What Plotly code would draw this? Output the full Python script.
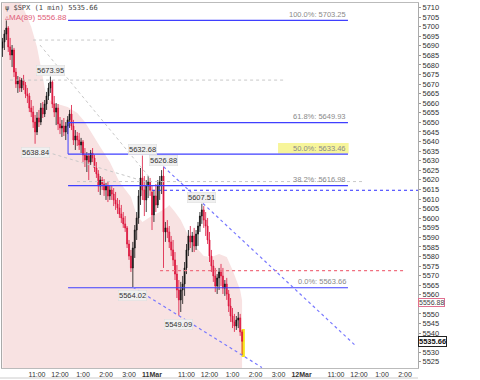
import plotly.graph_objects as go

# ---------------- data ----------------
DAY_INDEX = {"10": 0, "11": 1, "12": 2}

bars_day10 = 78   # 5-min bars 09:30 .. 15:55 on 10 Mar
bars_day11 = 48   # 5-min bars 09:30 .. 13:25 on 11 Mar

opens = [5688.9, 5692.0, 5696.2, 5699.3, 5689.4, 5685.2, 5687.8, 5676.3, 5670.1, 5672.1,
         5668.0, 5672.1, 5669.5, 5664.8, 5663.8, 5657.5, 5655.4, 5650.2, 5645.0, 5652.3,
         5650.2, 5657.5, 5654.4, 5659.6, 5663.8, 5668.0, 5671.1, 5659.6, 5655.4, 5657.5,
         5649.2, 5647.1, 5648.1, 5645.0, 5648.1, 5651.3, 5654.4, 5648.1, 5640.8, 5642.9,
         5640.8, 5638.2, 5639.8, 5633.0, 5630.4, 5632.5, 5629.3, 5634.0, 5631.4, 5626.2,
         5623.1, 5616.8, 5619.9, 5617.8, 5614.7, 5616.8, 5611.6, 5614.7, 5612.6, 5609.5,
         5607.4, 5605.3, 5602.2, 5600.1, 5597.0, 5594.9, 5586.5, 5580.2, 5574.0, 5584.4,
         5593.8, 5600.1, 5611.6, 5621.0, 5614.7, 5609.5, 5616.8, 5618.9,
         5613.7, 5601.7, 5611.6, 5606.9, 5616.8, 5618.9, 5622.0, 5592.8, 5594.9, 5592.8,
         5587.6, 5583.4, 5578.2, 5570.8, 5562.5, 5557.3, 5562.5, 5565.6, 5574.0, 5583.4,
         5590.7, 5587.6, 5590.7, 5585.5, 5591.7, 5595.9, 5601.1, 5604.3, 5599.0, 5595.9,
         5588.6, 5580.2, 5575.0, 5569.8, 5564.6, 5568.8, 5571.9, 5569.8, 5563.5, 5565.6,
         5560.4, 5554.1, 5548.9, 5545.8, 5543.7, 5546.8, 5547.9, 5540.6]

highs = [5694.1, 5698.3, 5703.25, 5700.3, 5694.1, 5690.4, 5688.9, 5678.4, 5674.2, 5673.7,
         5673.2, 5674.8, 5671.1, 5668.0, 5665.4, 5661.7, 5658.6, 5653.9, 5655.4, 5656.5,
         5660.1, 5660.7, 5661.7, 5665.9, 5670.6, 5673.95, 5672.1, 5663.8, 5660.1, 5659.6,
         5652.8, 5651.3, 5652.3, 5650.2, 5653.3, 5656.5, 5659.1, 5651.3, 5646.0, 5645.0,
         5644.5, 5641.9, 5640.8, 5636.6, 5634.5, 5634.0, 5635.6, 5636.6, 5633.0, 5629.3,
         5625.1, 5622.0, 5621.5, 5620.4, 5618.4, 5618.9, 5617.3, 5616.8, 5615.7, 5613.7,
         5610.5, 5609.5, 5606.9, 5603.2, 5601.1, 5595.9, 5588.6, 5583.4, 5587.6, 5596.4,
         5603.2, 5614.7, 5626.2, 5632.68, 5622.0, 5619.9, 5622.0, 5621.0,
         5616.8, 5614.7, 5617.8, 5619.9, 5622.0, 5625.1, 5626.88, 5598.0, 5599.0, 5595.9,
         5590.7, 5588.6, 5582.3, 5575.5, 5567.7, 5566.7, 5569.8, 5577.1, 5586.5, 5593.8,
         5595.9, 5592.8, 5594.9, 5593.8, 5598.0, 5603.2, 5607.51, 5606.3, 5603.2, 5600.1,
         5592.8, 5583.4, 5578.2, 5574.0, 5570.8, 5574.0, 5576.1, 5574.0, 5567.7, 5568.8,
         5562.5, 5558.3, 5553.1, 5550.0, 5548.9, 5551.0, 5550.0, 5541.6]

lows = [5684.2, 5687.8, 5693.0, 5686.8, 5682.6, 5678.9, 5673.7, 5668.0, 5665.4, 5665.9,
        5665.9, 5666.9, 5662.7, 5660.1, 5655.4, 5652.8, 5647.1, 5638.84, 5643.4, 5647.6,
        5648.6, 5652.3, 5652.8, 5656.5, 5661.7, 5665.4, 5657.5, 5652.8, 5648.6, 5646.0,
        5643.9, 5642.4, 5642.9, 5640.8, 5643.9, 5647.1, 5646.0, 5638.2, 5635.6, 5637.7,
        5635.6, 5634.0, 5629.3, 5626.7, 5624.1, 5619.9, 5627.8, 5629.3, 5624.1, 5621.0,
        5613.7, 5612.1, 5614.7, 5611.6, 5609.5, 5608.4, 5609.5, 5609.5, 5606.3, 5604.3,
        5602.2, 5600.1, 5597.5, 5594.9, 5592.8, 5584.4, 5578.2, 5571.9, 5564.02, 5579.2,
        5588.6, 5597.0, 5606.9, 5609.5, 5601.1, 5603.2, 5610.5, 5611.6,
        5593.8, 5598.0, 5603.2, 5605.3, 5609.5, 5612.6, 5574.0, 5587.6, 5589.6, 5584.4,
        5580.2, 5575.0, 5567.7, 5558.3, 5549.09, 5551.0, 5555.2, 5559.4, 5570.8, 5580.2,
        5584.4, 5582.3, 5582.3, 5583.4, 5585.5, 5592.8, 5597.0, 5594.9, 5590.7, 5586.5,
        5577.1, 5571.9, 5566.7, 5561.4, 5560.4, 5562.5, 5564.6, 5560.4, 5559.4, 5557.3,
        5551.0, 5545.8, 5542.6, 5540.6, 5541.6, 5542.6, 5538.5, 5528.5]

closes = [5692.0, 5696.2, 5699.3, 5689.4, 5685.2, 5687.8, 5676.3, 5670.1, 5672.1, 5668.0,
          5672.1, 5669.5, 5664.8, 5663.8, 5657.5, 5655.4, 5650.2, 5645.0, 5652.3, 5650.2,
          5657.5, 5654.4, 5659.6, 5663.8, 5668.0, 5671.1, 5659.6, 5655.4, 5657.5, 5649.2,
          5647.1, 5648.1, 5645.0, 5648.1, 5651.3, 5654.4, 5648.1, 5640.8, 5642.9, 5640.8,
          5638.2, 5639.8, 5633.0, 5630.4, 5632.5, 5629.3, 5634.0, 5631.4, 5626.2, 5623.1,
          5616.8, 5619.9, 5617.8, 5614.7, 5616.8, 5611.6, 5614.7, 5612.6, 5609.5, 5607.4,
          5605.3, 5602.2, 5600.1, 5597.0, 5594.9, 5586.5, 5580.2, 5574.0, 5584.4, 5593.8,
          5600.1, 5611.6, 5621.0, 5614.7, 5609.5, 5616.8, 5618.9, 5614.56,
          5601.7, 5611.6, 5606.9, 5616.8, 5618.9, 5622.0, 5592.8, 5594.9, 5592.8, 5587.6,
          5583.4, 5578.2, 5570.8, 5562.5, 5557.3, 5562.5, 5565.6, 5574.0, 5583.4, 5590.7,
          5587.6, 5590.7, 5585.5, 5591.7, 5595.9, 5601.1, 5604.3, 5599.0, 5595.9, 5588.6,
          5580.2, 5575.0, 5569.8, 5564.6, 5568.8, 5571.9, 5569.8, 5563.5, 5565.6, 5560.4,
          5554.1, 5548.9, 5545.8, 5543.7, 5546.8, 5547.9, 5540.6, 5535.66]

ma_times = ["10 09:30", "10 10:15", "10 10:30", "10 10:45", "10 11:00", "10 11:15",
            "10 11:25", "10 11:45", "10 12:20", "10 12:45", "10 13:05", "10 13:45",
            "10 14:10", "10 14:35", "10 15:05", "10 15:20", "10 15:35", "10 15:55",
            "11 09:50", "11 10:10", "11 10:15", "11 10:30", "11 10:45", "11 11:00",
            "11 11:20", "11 11:45", "11 12:05", "11 12:25", "11 12:45", "11 13:00",
            "11 13:20", "11 13:25"]
ma_values = [5719.1, 5713.9, 5707.1, 5699.8, 5689.4, 5673.7, 5662.7, 5660.1, 5658.0,
             5654.9, 5650.2, 5637.2, 5629.3, 5618.9, 5611.0, 5601.7, 5598.0, 5600.6,
             5603.2, 5605.8, 5606.9, 5603.2, 5599.0, 5592.8, 5586.0, 5580.2, 5579.7,
             5581.3, 5579.7, 5572.9, 5562.5, 5556.88]

fib_names = ["100.0%", "61.8%", "50.0%", "38.2%", "0.0%"]
fib_levels = [5703.25, 5649.93, 5633.46, 5616.98, 5563.66]

pivot_times = ["10 10:55", "10 11:35", "10 15:10", "10 15:35", "11 10:00", "11 10:40", "11 11:40"]
pivot_prices = [5638.84, 5673.95, 5564.02, 5632.68, 5626.88, 5549.09, 5607.51]
pivot_side = ["low", "high", "low", "high", "high", "low", "high"]

prior_close = 5614.56
red_level = 5572.6
last_price = 5535.66
ma_last = 5556.88

y_ticks = [5525, 5530, 5540, 5545, 5550, 5560, 5565, 5570, 5575, 5580, 5585, 5590,
           5595, 5600, 5605, 5610, 5615, 5620, 5625, 5630, 5635, 5640, 5645, 5650,
           5655, 5660, 5665, 5670, 5675, 5680, 5685, 5690, 5695, 5700, 5705, 5710]

tick_times = ["10 09:30", "10 11:00", "10 12:00", "10 13:00", "10 14:00", "10 15:00",
              "11 09:30", "11 11:00", "11 12:00", "11 13:00", "11 14:00", "11 15:00",
              "12 09:30", "12 11:00", "12 12:00", "12 13:00", "12 14:00"]
tick_text = ["<b>10Mar</b>", "11:00", "12:00", "1:00", "2:00", "3:00",
             "<b>11Mar</b>", "11:00", "12:00", "1:00", "2:00", "3:00",
             "<b>12Mar</b>", "11:00", "12:00", "1:00", "2:00"]


# ---------------- helpers ----------------
def sess(t):
    """session hours since 10 Mar 09:30 (trading hours only)"""
    d, hm = t.split()
    h, m = hm.split(":")
    return DAY_INDEX[d] * 6.5 + (int(h) * 60 + int(m) - 570) / 60.0


bar_times = []
for day, n in (("10", bars_day10), ("11", bars_day11)):
    for k in range(n):
        mins = 570 + 5 * k
        bar_times.append(f"{day} {mins // 60:02d}:{mins % 60:02d}")
bar_x = [sess(t) for t in bar_times]
ma_x = [sess(t) for t in ma_times]

FONT = "Arial, Liberation Sans, sans-serif"
RED = "#dc143c"
BLUE = "#3f3fff"

fig = go.Figure()

fig.add_trace(go.Candlestick(
    x=bar_x, open=opens, high=highs, low=lows, close=closes,
    increasing=dict(line=dict(color="#111111", width=0.8), fillcolor="#111111"),
    decreasing=dict(line=dict(color=RED, width=0.8), fillcolor=RED),
    whiskerwidth=0, hoverinfo="skip"))

shapes = []
annotations = []

# MA(89) shaded area (drawn below the candles)
floor = 5500
path = f"M {ma_x[0]},{floor} " + " ".join(f"L {x},{y}" for x, y in zip(ma_x, ma_values)) \
       + f" L {ma_x[-1]},{floor} Z"
shapes.append(dict(type="path", path=path, fillcolor="#f8e2e2", line=dict(width=0), layer="below"))

# yellow highlight of the current bar
lx = bar_x[-1]
shapes.append(dict(type="rect", x0=lx - 0.02, x1=lx + 0.12, y0=lows[-1] - 1, y1=highs[-1] + 0.5,
                   fillcolor="#f6e61a", line=dict(width=0), layer="below"))

# Fibonacci retracement
fib_x0, fib_x1 = 2.85, 15.02
for name, lvl in zip(fib_names, fib_levels):
    shapes.append(dict(type="line", x0=fib_x0, x1=fib_x1, y0=lvl, y1=lvl,
                       line=dict(color=BLUE, width=1.2)))
shapes.append(dict(type="line", x0=fib_x0, x1=fib_x0, y0=fib_levels[1], y1=fib_levels[2],
                   line=dict(color=BLUE, width=1)))
# yellow highlight behind 50% label
shapes.append(dict(type="rect", x0=11.98, x1=15.05, y0=fib_levels[2] + 0.3, y1=fib_levels[2] + 5.8,
                   fillcolor="#f7f59a", line=dict(width=0), layer="below"))

# gray dotted guide lines
GRAY = "#c8c8c8"
for (x0, y0, x1, y1) in [(1.33, 5693.0, 4.89, 5693.0),
                         (0.33, 5672.1, 12.2, 5672.1),
                         (3.24, 5619.1, 15.63, 5619.1),
                         (1.63, 5690.4, 6.41, 5621.0),
                         (1.93, 5634.5, 5.98, 5619.9)]:
    shapes.append(dict(type="line", x0=x0, x1=x1, y0=y0, y1=y1,
                       line=dict(color=GRAY, width=1, dash="dot")))

# prior close (blue dotted) and red dotted level
shapes.append(dict(type="line", x0=6.5, x1=18.2, y0=prior_close, y1=prior_close,
                   line=dict(color="#3030ff", width=1, dash="dot")))
shapes.append(dict(type="line", x0=6.85, x1=17.54, y0=red_level, y1=red_level,
                   line=dict(color="#f07080", width=1.2, dash="dot")))

# blue dotted trend lines
shapes.append(dict(type="line", x0=sess("11 10:00"), y0=5626.88, x1=15.37, y1=5533.2,
                   line=dict(color="#7878ff", width=1.2, dash="dot")))
shapes.append(dict(type="line", x0=sess("10 15:10"), y0=5564.02, x1=11.28, y1=5522.0,
                   line=dict(color="#7878ff", width=1.2, dash="dot")))

# bottom border line of the panel
shapes.append(dict(type="line", xref="paper", yref="paper", x0=-0.01, x1=1.0,
                   y0=-0.0274, y1=-0.0274, line=dict(color="#cccccc", width=1)))

# fib labels
for name, lvl in zip(fib_names, fib_levels):
    annotations.append(dict(x=fib_x1, y=lvl, xanchor="right", yanchor="bottom",
                            text=f"{name}: {lvl:.2f}", showarrow=False, yshift=-0.5,
                            font=dict(family=FONT, size=7.5, color="#8a8a8a")))

# pivot labels
for t, p, side in zip(pivot_times, pivot_prices, pivot_side):
    annotations.append(dict(x=sess(t), y=p, text=f"{p:.2f}", showarrow=False,
                            yanchor="bottom" if side == "high" else "top",
                            yshift=1 if side == "high" else -3,
                            bgcolor="#f0f0f0", bordercolor="#dddddd", borderwidth=0.5, borderpad=0.5,
                            font=dict(family=FONT, size=7.5, color="#333333")))

# right-side price boxes
annotations.append(dict(xref="paper", x=1.0, y=ma_last, xanchor="left", yanchor="middle",
                        text=f"{ma_last:.2f}", showarrow=False, bgcolor="white", yshift=-1.5,
                        bordercolor="#e07090", borderwidth=1, borderpad=0,
                        font=dict(family=FONT, size=7, color="#444444")))
annotations.append(dict(xref="paper", x=1.0, y=last_price, xanchor="left", yanchor="middle",
                        text=f"<b>{last_price:.2f}</b>", showarrow=False, bgcolor="white",
                        bordercolor="#222222", borderwidth=1, borderpad=0,
                        font=dict(family=FONT, size=7.5, color="#111111")))

# legend texts
annotations.append(dict(xref="paper", yref="paper", x=0.003, y=0.987, xanchor="left",
                        yanchor="middle", showarrow=False,
                        text=f"ψ $SPX (1 min) {last_price:.2f}",
                        font=dict(family="DejaVu Sans Mono", size=7, color="#444444")))
annotations.append(dict(xref="paper", yref="paper", x=0.003, y=0.959, xanchor="left",
                        yanchor="middle", showarrow=False,
                        text=f"▵MA(89) {ma_last:.2f}",
                        font=dict(family=FONT, size=8, color="#e0607a")))

fig.update_layout(
    width=480, height=380,
    margin=dict(l=2, r=62, t=3, b=12),
    paper_bgcolor="white", plot_bgcolor="white",
    showlegend=False,
    shapes=shapes, annotations=annotations,
    xaxis=dict(range=[-0.022, 18.065], tickmode="array",
               tickvals=[sess(t) for t in tick_times], ticktext=tick_text,
               showgrid=False, zeroline=False, showline=True, linecolor="#bbbbbb",
               mirror=True, ticks="", tickfont=dict(family=FONT, size=7, color="#333333"),
               rangeslider=dict(visible=False), fixedrange=True),
    yaxis=dict(range=[5521.75, 5712.35], side="right", tickmode="array", tickvals=y_ticks,
               showgrid=False, zeroline=False, showline=True, linecolor="#aaaaaa", mirror=True,
               ticks="outside", ticklen=2, tickcolor="#999999",
               tickfont=dict(family=FONT, size=7.5, color="#333333"), fixedrange=True),
)

fig.write_html("out.html")
